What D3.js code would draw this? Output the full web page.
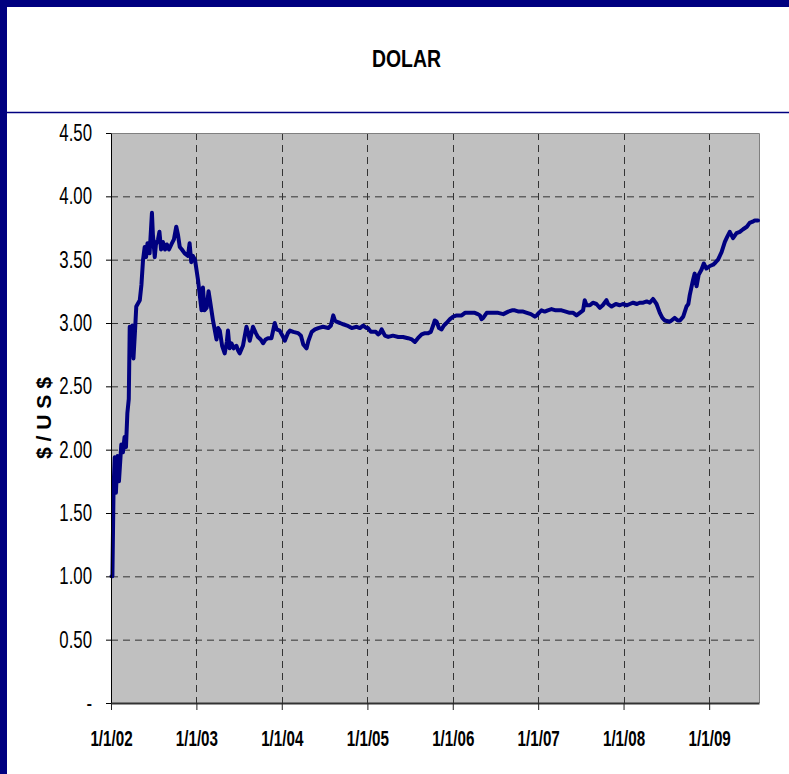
<!DOCTYPE html>
<html>
<head>
<meta charset="utf-8">
<script src="https://cdn.jsdelivr.net/npm/d3@7"></script>
<style>
  html, body { margin: 0; padding: 0; background: #ffffff; }
</style>
</head>
<body>
<script>
// dates and peso per dollar values
const dates = [
  "2002-01-03","2002-01-07","2002-01-12","2002-01-17","2002-01-22","2002-01-29","2002-02-04","2002-02-14",
  "2002-02-21","2002-02-28","2002-03-06","2002-03-12","2002-03-18","2002-03-22","2002-03-27","2002-04-02",
  "2002-04-07","2002-04-14","2002-04-19","2002-05-04","2002-05-11","2002-05-18","2002-05-25","2002-05-31",
  "2002-06-06","2002-06-15","2002-06-25","2002-06-29","2002-07-07","2002-07-12","2002-07-21","2002-07-27",
  "2002-08-03","2002-08-11","2002-08-20","2002-08-28","2002-09-06","2002-09-16","2002-09-27","2002-10-07",
  "2002-10-14","2002-10-22","2002-10-31","2002-11-12","2002-11-26","2002-12-03","2002-12-10","2002-12-17",
  "2002-12-26",
  "2003-01-08","2003-01-23","2003-01-29","2003-02-05","2003-02-14","2003-02-22","2003-02-28","2003-03-13",
  "2003-03-28","2003-04-04","2003-04-11","2003-04-21","2003-05-02","2003-05-11","2003-05-16","2003-05-23",
  "2003-05-31","2003-06-09","2003-06-21","2003-06-29","2003-07-05","2003-07-19","2003-08-03","2003-08-11",
  "2003-08-17","2003-08-31","2003-09-12","2003-09-21","2003-10-03","2003-10-13","2003-10-24","2003-11-03",
  "2003-11-18","2003-12-02","2003-12-10","2003-12-23",
  "2004-01-04","2004-01-14","2004-01-27","2004-02-05","2004-02-19","2004-03-11","2004-03-23","2004-04-02",
  "2004-04-16","2004-04-24","2004-05-08","2004-05-22","2004-06-05","2004-06-25","2004-07-18","2004-07-29",
  "2004-08-08","2004-08-15","2004-08-22","2004-09-06","2004-09-20","2004-10-06","2004-10-26","2004-11-16",
  "2004-11-30","2004-12-14","2004-12-29",
  "2005-01-04","2005-01-16","2005-01-26","2005-02-06","2005-02-16","2005-02-23","2005-03-03","2005-03-17",
  "2005-03-31","2005-04-20","2005-05-13","2005-06-02","2005-06-24","2005-07-10","2005-07-23","2005-08-05",
  "2005-08-21","2005-09-04","2005-09-18","2005-09-29","2005-10-09","2005-10-16","2005-10-24","2005-11-03",
  "2005-11-14","2005-11-24","2005-12-05","2005-12-20",
  "2006-01-03","2006-01-18","2006-02-08","2006-02-22","2006-03-08","2006-03-24","2006-04-05","2006-04-18",
  "2006-04-27","2006-05-04","2006-05-11","2006-05-26","2006-06-09","2006-06-26","2006-07-14","2006-08-05",
  "2006-08-26","2006-09-11","2006-09-23","2006-10-10","2006-10-29","2006-11-14","2006-12-01","2006-12-18",
  "2006-12-26",
  "2007-01-04","2007-01-15","2007-01-29","2007-02-11","2007-02-27","2007-03-17","2007-04-11","2007-04-29",
  "2007-05-16","2007-05-31","2007-06-14","2007-06-28","2007-07-12","2007-07-19","2007-07-27","2007-08-10",
  "2007-08-23","2007-09-07","2007-09-22","2007-10-04","2007-10-20","2007-10-27","2007-11-11","2007-11-29",
  "2007-12-16","2007-12-29",
  "2008-01-14","2008-01-28","2008-02-11","2008-02-27","2008-03-10","2008-03-25","2008-04-09","2008-04-22",
  "2008-05-06","2008-05-21","2008-06-04","2008-06-15","2008-06-25","2008-07-17","2008-08-07","2008-08-20",
  "2008-08-29","2008-09-12","2008-09-26","2008-10-04","2008-10-10","2008-10-24","2008-10-31","2008-11-08",
  "2008-11-17","2008-11-29","2008-12-09","2008-12-20",
  "2009-01-04","2009-01-18","2009-01-29","2009-02-08","2009-02-23","2009-03-09","2009-03-19","2009-03-30",
  "2009-04-13","2009-04-28","2009-05-12","2009-05-26","2009-06-11","2009-06-23","2009-07-06","2009-07-15",
  "2009-07-29"
];
const values = [
  1.00,1.00,1.70,1.94,1.66,1.95,1.75,2.04,
  1.98,2.10,2.02,2.29,2.40,2.97,2.75,2.98,
  2.72,2.95,3.13,3.18,3.30,3.50,3.60,3.52,
  3.63,3.55,3.87,3.70,3.52,3.62,3.66,3.72,
  3.58,3.64,3.58,3.62,3.58,3.62,3.66,3.76,
  3.70,3.60,3.58,3.55,3.53,3.63,3.48,3.53,
  3.50,
  3.34,3.10,3.28,3.10,3.12,3.25,3.18,3.02,
  2.87,2.96,2.94,2.82,2.76,2.85,2.94,2.80,
  2.84,2.80,2.82,2.78,2.76,2.82,2.97,2.92,
  2.86,2.97,2.92,2.89,2.87,2.84,2.87,2.88,
  2.88,3.00,2.95,2.94,
  2.90,2.86,2.92,2.94,2.93,2.92,2.90,2.83,
  2.80,2.86,2.93,2.95,2.96,2.97,2.96,2.98,
  3.06,3.02,3.01,3.00,2.99,2.98,2.96,2.97,
  2.96,2.98,2.96,
  2.96,2.93,2.93,2.93,2.91,2.92,2.95,2.90,
  2.89,2.90,2.89,2.89,2.88,2.87,2.85,2.88,
  2.91,2.92,2.92,2.93,2.98,3.02,3.01,2.96,
  2.95,2.98,3.00,3.03,
  3.05,3.06,3.06,3.08,3.08,3.08,3.08,3.07,
  3.06,3.03,3.04,3.08,3.08,3.08,3.08,3.07,
  3.09,3.10,3.10,3.09,3.09,3.08,3.07,3.05,
  3.06,
  3.08,3.10,3.09,3.10,3.11,3.10,3.10,3.09,
  3.08,3.08,3.06,3.08,3.10,3.18,3.14,3.14,
  3.16,3.15,3.12,3.14,3.18,3.15,3.13,3.15,
  3.14,3.15,
  3.14,3.15,3.16,3.15,3.16,3.16,3.17,3.16,
  3.19,3.15,3.08,3.04,3.02,3.01,3.04,3.02,
  3.02,3.05,3.13,3.15,3.22,3.34,3.39,3.29,
  3.38,3.42,3.47,3.43,
  3.45,3.46,3.48,3.50,3.56,3.64,3.68,3.72,
  3.67,3.71,3.72,3.74,3.76,3.79,3.80,3.81,
  3.81
];
const yTicks = [0, 0.5, 1, 1.5, 2, 2.5, 3, 3.5, 4, 4.5];
const yTickLabels = ["-", "0.50", "1.00", "1.50", "2.00", "2.50", "3.00", "3.50", "4.00", "4.50"];
const xTickDates = ["2002-01-01","2003-01-01","2004-01-01","2005-01-01","2006-01-01","2007-01-01","2008-01-01","2009-01-01"];
const xTickLabels = ["1/1/02","1/1/03","1/1/04","1/1/05","1/1/06","1/1/07","1/1/08","1/1/09"];
const titleText = "DOLAR";
const yTitle = "$ / U S $";

const width = 789, height = 774;
const plotL = 111, plotR = 759, plotT = 133, plotB = 703;
const parse = d3.timeParse("%Y-%m-%d");

const series = dates.map((d, i) => ({ date: parse(d), value: values[i] }));

const x = d3.scaleTime()
  .domain([parse("2002-01-01"), parse("2009-08-02")])
  .range([plotL, plotR]);
const y = d3.scaleLinear()
  .domain([0, 4.5])
  .range([plotB, plotT]);

const svg = d3.select("body").append("svg")
  .attr("width", width)
  .attr("height", height)
  .style("display", "block")
  .attr("font-family", "Liberation Sans, Arial, sans-serif");

// squeeze text horizontally like the narrow original
const squeeze = (sel, k) => sel.each(function () {
  const w = this.getComputedTextLength();
  d3.select(this).attr("textLength", w * k).attr("lengthAdjust", "spacingAndGlyphs");
});

svg.append("rect").attr("width", width).attr("height", height).attr("fill", "#ffffff");

// navy frame
svg.append("rect").attr("x", 0).attr("y", 0).attr("width", width).attr("height", 7).attr("fill", "#000080");
svg.append("rect").attr("x", 0).attr("y", 0).attr("width", 7).attr("height", height).attr("fill", "#000080");
svg.append("line")
  .attr("x1", 7).attr("x2", width).attr("y1", 112.5).attr("y2", 112.5)
  .attr("stroke", "#000080").attr("stroke-width", 1.5);

// title
svg.append("text")
  .text(titleText)
  .attr("x", 406.5)
  .attr("y", 67)
  .attr("text-anchor", "middle")
  .attr("font-size", 23)
  .attr("font-weight", "bold")
  .attr("fill", "#000000")
  .attr("textLength", 69)
  .attr("lengthAdjust", "spacingAndGlyphs");

// plot background
svg.append("rect")
  .attr("x", plotL).attr("y", plotT)
  .attr("width", plotR - plotL).attr("height", plotB - plotT)
  .attr("fill", "#c0c0c0");

// grid
svg.append("g")
  .selectAll("line")
  .data(yTicks.filter(v => v > 0 && v < 4.5))
  .join("line")
  .attr("x1", plotL).attr("x2", plotR)
  .attr("y1", d => y(d) + 0.5).attr("y2", d => y(d) + 0.5)
  .attr("stroke", "#333333").attr("stroke-width", 1)
  .attr("stroke-dasharray", "7,5");

svg.append("g")
  .selectAll("line")
  .data(xTickDates.slice(1).map(parse))
  .join("line")
  .attr("x1", d => Math.round(x(d)) + 0.5).attr("x2", d => Math.round(x(d)) + 0.5)
  .attr("y1", plotT).attr("y2", plotB)
  .attr("stroke", "#333333").attr("stroke-width", 1)
  .attr("stroke-dasharray", "7,5");

// top / right frame of the plot
svg.append("path")
  .attr("d", `M${plotL},${plotT + 0.5}H${plotR + 0.5}V${plotB}`)
  .attr("fill", "none")
  .attr("stroke", "#808080")
  .attr("stroke-width", 1);

// line
svg.append("path")
  .datum(series)
  .attr("fill", "none")
  .attr("stroke", "#000080")
  .attr("stroke-width", 4)
  .attr("stroke-linejoin", "round")
  .attr("stroke-linecap", "round")
  .attr("d", d3.line().x(d => x(d.date)).y(d => y(d.value)));

// y axis
const yAxis = svg.append("g")
  .attr("transform", `translate(${plotL},0)`)
  .call(d3.axisLeft(y)
    .tickValues(yTicks)
    .tickFormat((d, i) => yTickLabels[i])
    .tickSizeInner(5)
    .tickSizeOuter(0)
    .tickPadding(14));
yAxis.select(".domain").attr("stroke", "#000000");
yAxis.selectAll(".tick line").attr("stroke", "#000000");
yAxis.selectAll("text")
  .attr("font-size", 23)
  .attr("font-family", "Liberation Sans, Arial, sans-serif")
  .attr("fill", "#000000")
  .call(squeeze, 0.73);

// x axis
const xAxis = svg.append("g")
  .attr("transform", `translate(0,${plotB})`)
  .call(d3.axisBottom(x)
    .tickValues(xTickDates.map(parse))
    .tickFormat((d, i) => xTickLabels[i])
    .tickSizeInner(7)
    .tickSizeOuter(0)
    .tickPadding(20));
xAxis.select(".domain").attr("stroke", "#333333").attr("stroke-width", 2);
xAxis.selectAll(".tick line").attr("stroke", "#222222");
xAxis.selectAll("text")
  .attr("font-size", 22)
  .attr("font-weight", "bold")
  .attr("font-family", "Liberation Sans, Arial, sans-serif")
  .attr("fill", "#000000")
  .call(squeeze, 0.69);

// y title
svg.append("text")
  .text(yTitle)
  .attr("transform", `translate(51,${(plotT + plotB) / 2}) rotate(-90)`)
  .attr("text-anchor", "middle")
  .attr("font-size", 21)
  .attr("font-weight", "bold")
  .attr("fill", "#000000")
  .attr("textLength", 82)
  .attr("lengthAdjust", "spacingAndGlyphs");
</script>
</body>
</html>
